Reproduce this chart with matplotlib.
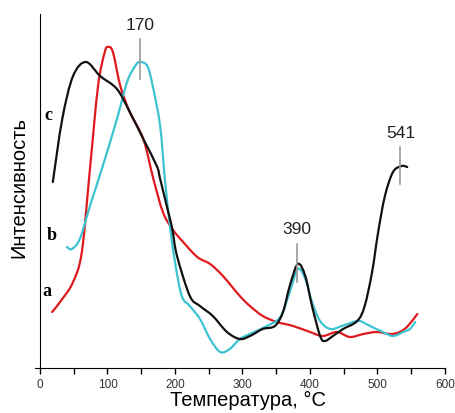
import matplotlib
matplotlib.use("Agg")
import matplotlib.pyplot as plt
from matplotlib.ticker import MultipleLocator
from matplotlib.path import Path
from matplotlib.patches import PathPatch

# Curve a (red)
temp_a = [18, 33, 49, 62, 74, 86, 96, 101, 108, 119, 133, 153, 168, 182, 196, 212, 233, 252, 271,
          296, 311, 330, 351, 375, 400, 419, 440, 459, 479, 499, 519, 533, 545, 559]
int_a = [56, 69, 86, 116, 199, 282, 316, 321, 316, 282, 256, 229, 189, 156, 139, 126, 111, 104, 92,
         72, 62, 52, 46, 42, 36, 32, 36, 31, 34, 36, 34, 36, 42, 54]

# Curve b (cyan)
temp_b = [40, 47, 59, 74, 93, 114, 129, 141, 148, 159, 167, 178, 185, 193, 200, 210, 222, 237, 252,
          267, 281, 296, 311, 336, 356, 370, 382, 393, 403, 415, 430, 447, 464, 474, 489, 508, 523,
          538, 548, 556]
int_b = [121, 119, 129, 162, 202, 249, 286, 302, 306, 302, 282, 242, 189, 139, 106, 72, 62, 49, 29,
         16, 19, 29, 34, 42, 51, 76, 99, 89, 66, 47, 39, 42, 46, 47, 42, 36, 32, 36, 39, 46]

# Curve c (black)
temp_c = [19, 33, 49, 68, 89, 114, 133, 153, 173, 178, 190, 196, 203, 222, 237, 256, 277, 296, 311,
          330, 348, 360, 370, 382, 393, 403, 415, 422, 434, 449, 470, 481, 492, 501, 511, 523, 536, 544]
int_c = [186, 249, 292, 306, 292, 279, 256, 229, 202, 189, 156, 139, 112, 72, 62, 52, 36, 29, 32,
         39, 42, 56, 82, 104, 92, 62, 32, 27, 32, 39, 47, 62, 96, 136, 172, 196, 202, 201]

# Peak annotations
peak_labels = ["170", "390", "541"]
peak_x = [148, 381, 534]
peak_text_y = [344, 139, 236]
peak_line = [(289, 329), (86, 124), (184, 221)]

curve_labels = ["a", "b", "c"]
curve_label_pos = [(10, 78), (17, 133), (12, 254)]


def smooth_path(xs, ys):
    """Catmull-Rom curve through the given points, drawn as cubic Bezier segments."""
    pts = list(zip(xs, ys))
    n = len(pts)
    verts = [pts[0]]
    codes = [Path.MOVETO]
    for i in range(n - 1):
        p0 = pts[i - 1] if i > 0 else pts[i]
        p1 = pts[i]
        p2 = pts[i + 1]
        p3 = pts[i + 2] if i + 2 < n else pts[i + 1]
        c1 = (p1[0] + (p2[0] - p0[0]) / 6, p1[1] + (p2[1] - p0[1]) / 6)
        c2 = (p2[0] - (p3[0] - p1[0]) / 6, p2[1] - (p3[1] - p1[1]) / 6)
        verts += [c1, c2, p2]
        codes += [Path.CURVE4] * 3
    return Path(verts, codes)


fig = plt.figure(figsize=(4.56, 4.14), dpi=100)
ax = fig.add_axes([35/456, 45/414, 410/456, 354/414])

for xs, ys, col in [(temp_a, int_a, "#e0191e"), (temp_b, int_b, "#3cc3d2"), (temp_c, int_c, "#111111")]:
    ax.add_patch(PathPatch(smooth_path(xs, ys), facecolor="none", edgecolor=col, lw=1.6,
                           capstyle="round", joinstyle="round"))

for lab, x, ty, (y0, y1) in zip(peak_labels, peak_x, peak_text_y, peak_line):
    ax.plot([x, x], [y0, y1], color="#999999", lw=1.2)
    ax.text(x, ty, lab, ha="center", va="center", fontsize=12.5,
            family="Liberation Sans", color="#222222")

for lab, (x, y) in zip(curve_labels, curve_label_pos):
    ax.text(x, y, lab, ha="center", va="center", fontsize=13, fontweight="bold",
            family="Liberation Serif", color="black")

ax.set_xlim(-7.4, 600)
ax.set_ylim(0, 354)
ax.spines["top"].set_visible(False)
ax.spines["right"].set_visible(False)
ax.spines["left"].set_position(("data", 0))
ax.set_yticks([])
ax.xaxis.set_major_locator(MultipleLocator(100))
ax.xaxis.set_minor_locator(MultipleLocator(50))
ax.tick_params(axis="x", which="both", direction="out", length=4, width=1,
               labelsize=8.5, labelcolor="#333333", pad=3)
for lbl in ax.get_xticklabels():
    lbl.set_family("Liberation Sans")
ax.text(308, -31, "Температура, °C", ha="center", va="center", fontsize=14.5,
        family="Liberation Sans", clip_on=False)
ax.text(-32, 182, "Интенсивность", rotation=90, ha="center", va="center",
        fontsize=14.5, family="Liberation Sans", clip_on=False)

fig.savefig("out.png", dpi=100)
